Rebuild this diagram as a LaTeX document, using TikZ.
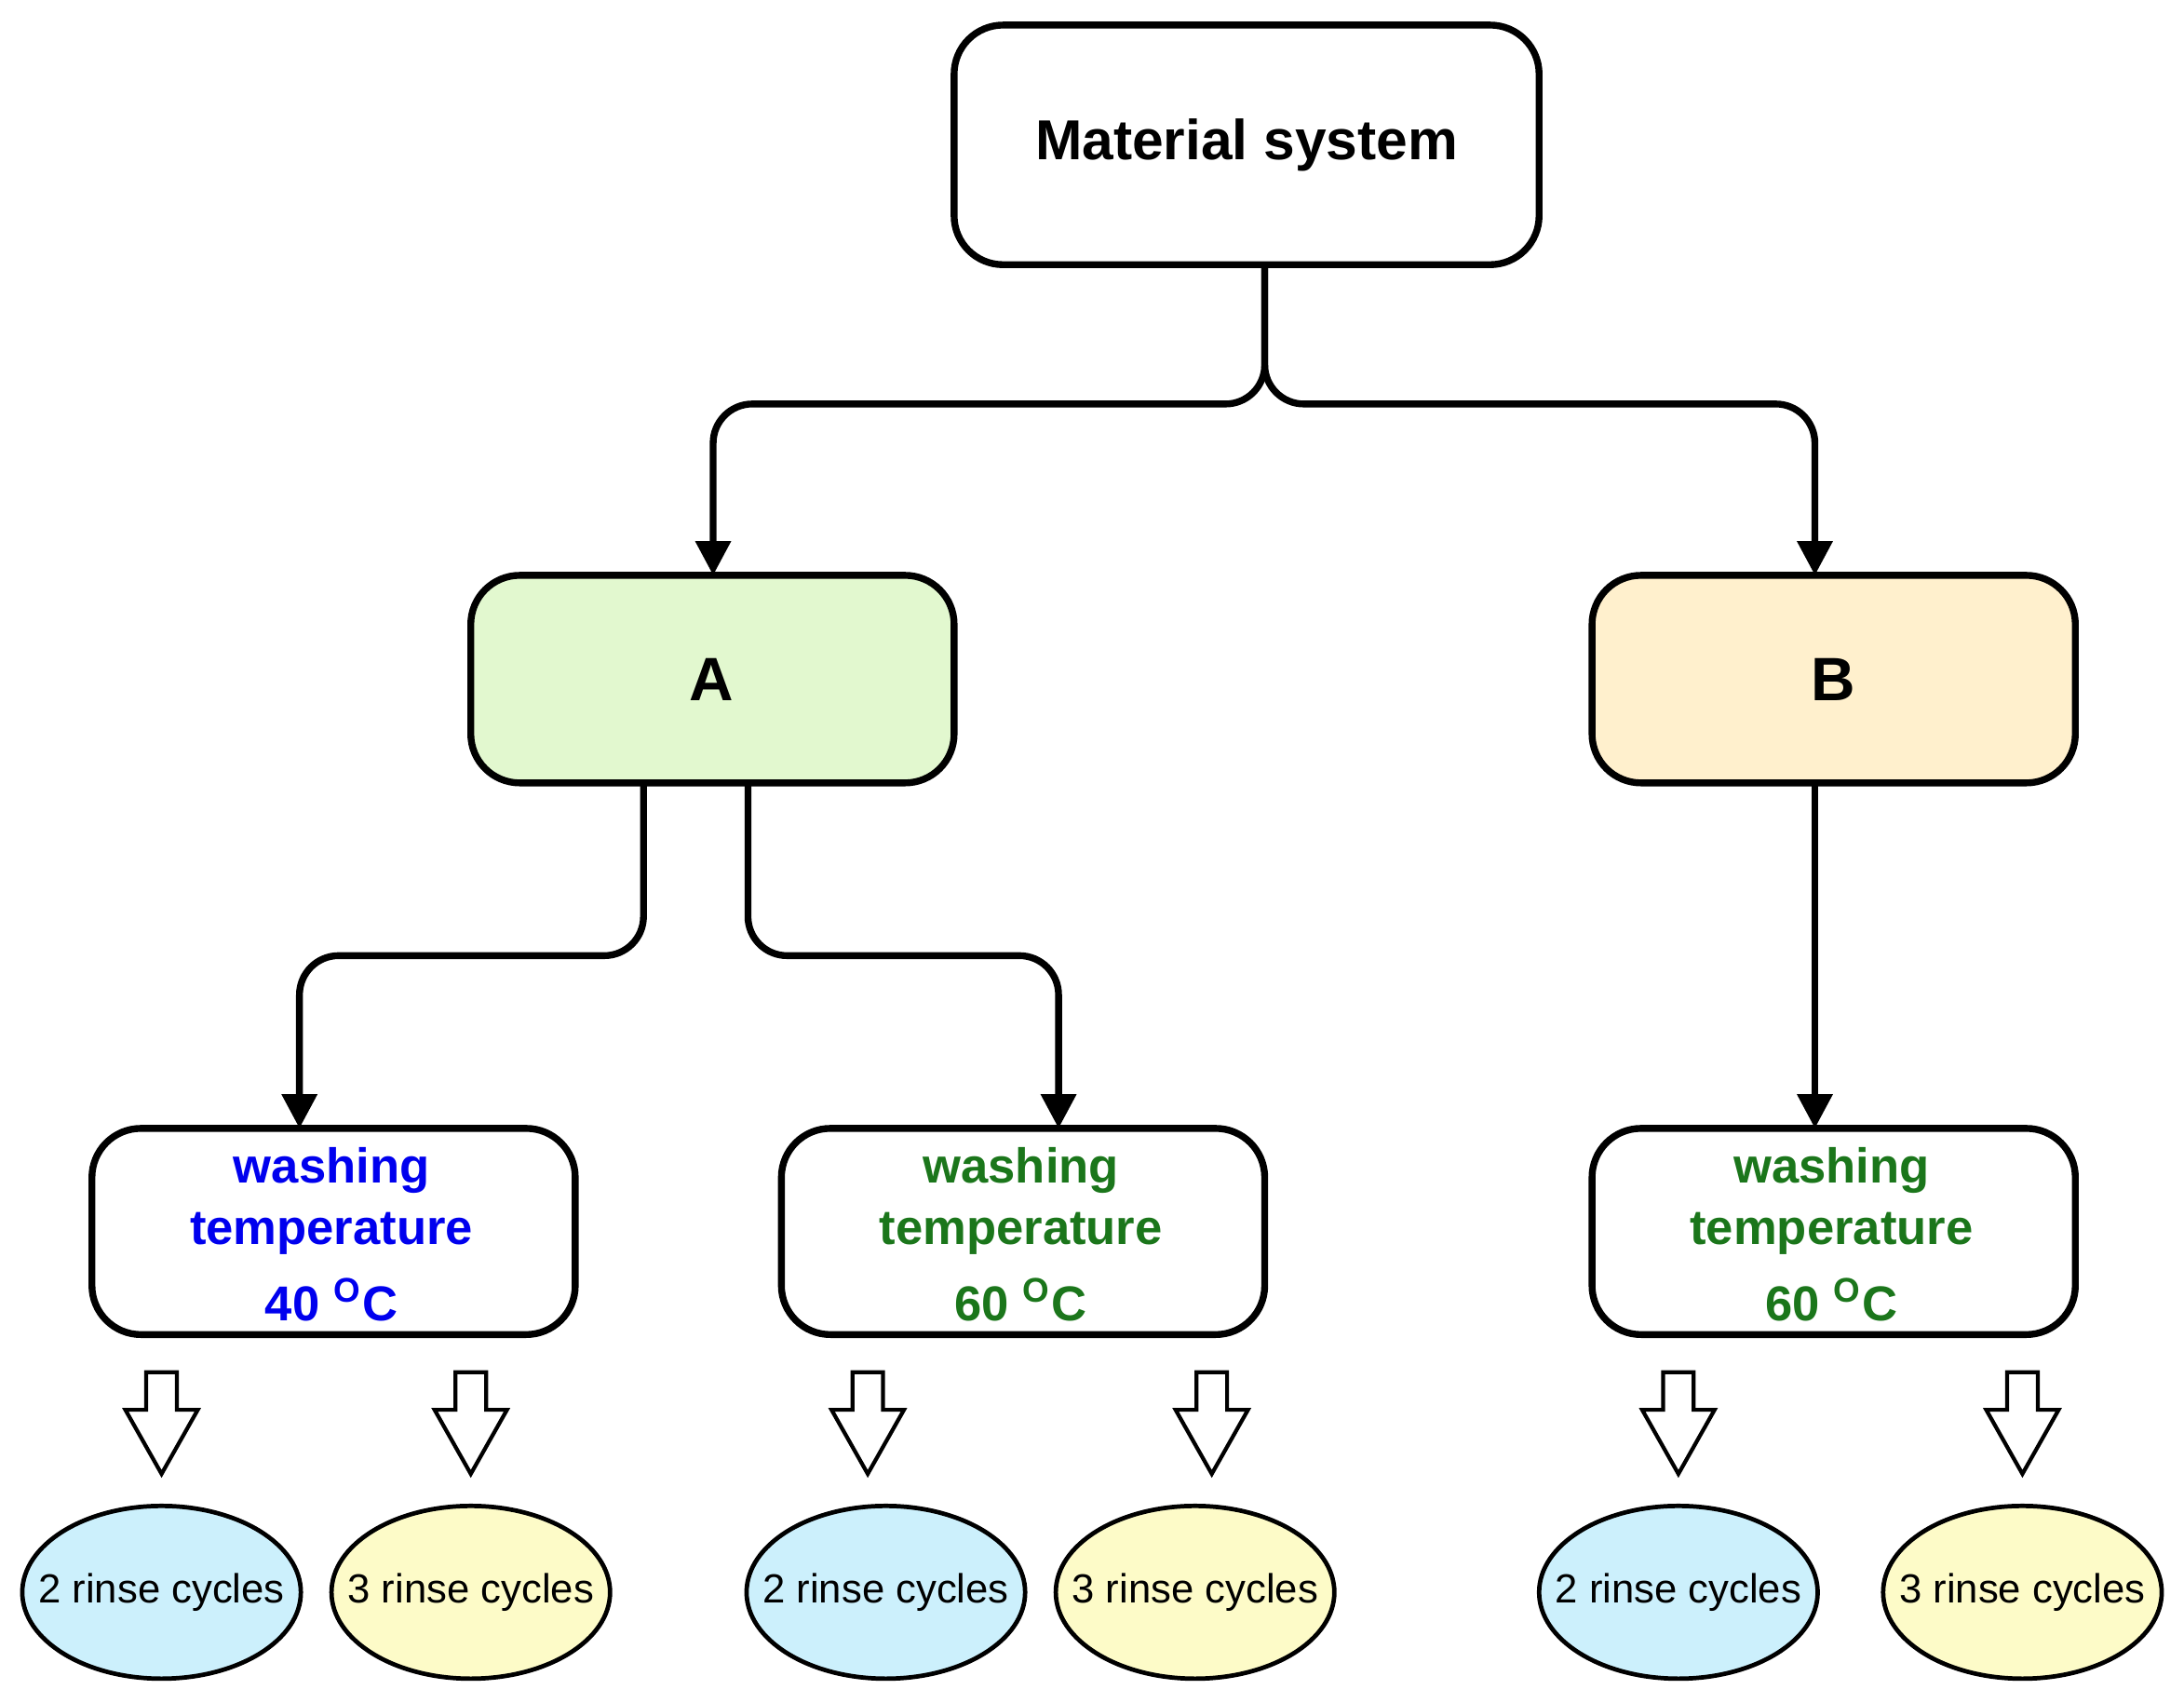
\documentclass[tikz,border=0pt]{standalone}
\usepackage{fontspec}
\setmainfont{Liberation Sans}
\usetikzlibrary{shapes.geometric,arrows.meta}
\definecolor{gA}{HTML}{E2F8CF}
\definecolor{yB}{HTML}{FFF0CD}
\definecolor{cb}{HTML}{CCF0FC}
\definecolor{cy}{HTML}{FDFBC8}
\definecolor{tb}{HTML}{0000EE}
\definecolor{tg}{HTML}{1B761B}
\begin{document}
\begin{tikzpicture}[x=0.01cm,y=-0.01cm,
  box/.style={draw,line width=1.4pt,rounded corners=10pt,align=center,font=\bfseries},
  ell/.style={draw,line width=0.9pt},
  etxt/.style={font=\fontsize{8.3}{10}\selectfont,inner sep=0pt},
  conn/.style={line width=1.4pt,rounded corners=8pt,-{Triangle[length=7pt,width=7pt]}},
  hol/.style={draw,line width=0.8pt,fill=white}]
\useasboundingbox (0,0) rectangle (1568,1222);
\path[box] (685,18) rectangle (1105,190);
\node[font=\bfseries\fontsize{11.5}{14}\selectfont] (M) at (895,104) {Material system};
\coordinate (Mb) at (908,190);
\path[box,fill=gA] (338,413) rectangle (685,562);
\node[font=\bfseries\fontsize{12.5}{14}\selectfont] (A) at (511,488) {A};
\path[box,fill=yB] (1143,413) rectangle (1490,562);
\node[font=\bfseries\fontsize{12.5}{14}\selectfont] (B) at (1316,488) {B};
\coordinate (Aa) at (512,413); \coordinate (Ba) at (1303,413);
\draw[conn] (Mb) -- (908,290) -- (512,290) -- (Aa);
\draw[conn] (Mb) -- (908,290) -- (1303,290) -- (Ba);
\foreach \x/\c/\t/\n in {66/tb/40/W1,561/tg/60/W2,1143/tg/60/W3}{
  \path[box] (\x,810) rectangle (\x+347,958);
  \node[font=\bfseries\fontsize{10}{12.5}\selectfont,text=\c,align=center] (\n) at (\x+172,886) {washing\\temperature\\[3pt]\t\ \textsuperscript{O}C};
}
\coordinate (A1) at (462,562); \coordinate (A2) at (537,562); \coordinate (B1) at (1303,562);
\draw[conn] (A1) -- (462,686) -- (215,686) -- (215,810);
\draw[conn] (A2) -- (537,686) -- (760,686) -- (760,810);
\draw[conn] (B1) -- (1303,810);
\foreach \x in {116,338,623,870,1205,1452}{
  \draw[hol] (\x-11,985) -- (\x+11,985) -- (\x+11,1012) -- (\x+26,1012) -- (\x,1058) -- (\x-26,1012) -- (\x-11,1012) -- cycle;
}
\foreach \x/\f/\k/\n in {116/cb/2/e1,338/cy/3/e2,636/cb/2/e3,858/cy/3/e4,1205/cb/2/e5,1452/cy/3/e6}{
  \draw[ell,fill=\f] (\x,1143) ellipse [x radius=100,y radius=62];
  \node[etxt] (\n) at (\x,1143) {\k\ rinse cycles};
}
\end{tikzpicture}
\end{document}
